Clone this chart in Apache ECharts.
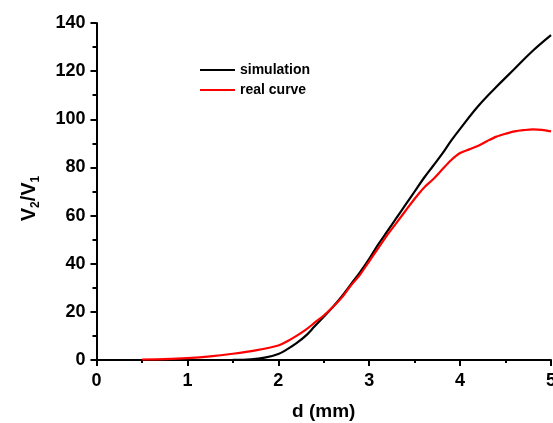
<!DOCTYPE html>
<html>
<head>
<meta charset="utf-8">
<script src="https://cdn.jsdelivr.net/npm/echarts@6/dist/echarts.min.js"></script>
<style>
  html, body { margin: 0; padding: 0; background: #fff; }
  #chart { width: 553px; height: 423px; }
</style>
</head>
<body>
<div id="chart"></div>
<script>
// simulation curve, d (mm) -> V2/V1
var simD = [0, 0.5, 1.0, 1.5, 1.7, 1.85, 2.0, 2.1, 2.2, 2.3, 2.4, 2.5, 2.6, 2.7, 2.8, 2.9, 3.0, 3.1, 3.2, 3.3, 3.4, 3.5, 3.6, 3.7, 3.8, 3.9, 4.0, 4.2, 4.4, 4.6, 4.8, 5.0];
var simV = [0, 0, 0, 0.05, 0.3, 1.0, 2.5, 4.5, 7, 10, 14, 18, 22, 26.5, 31.5, 36.5, 42, 48, 53.5, 59, 64.5, 70, 75.5, 80.5, 85.5, 91, 96, 105.5, 113.5, 121, 128.5, 135];
// measured curve
var realD = [0.5, 0.75, 1.0, 1.25, 1.5, 1.75, 2.0, 2.1, 2.2, 2.3, 2.4, 2.5, 2.6, 2.7, 2.8, 2.9, 3.0, 3.1, 3.2, 3.3, 3.4, 3.5, 3.6, 3.7, 3.8, 3.9, 4.0, 4.1, 4.2, 4.3, 4.4, 4.5, 4.6, 4.7, 4.8, 4.9, 5.0];
var realV = [0.2, 0.4, 0.8, 1.5, 2.6, 4, 6, 7.8, 10, 12.5, 15.5, 18.5, 22, 26, 31, 35.5, 41, 46.5, 52, 57, 62, 67, 71.5, 75, 79, 83, 86, 87.5, 89, 91, 92.8, 94, 95, 95.5, 95.8, 95.6, 95];

function pairs(xs, ys) {
  return xs.map(function (x, i) { return [x, ys[i]]; });
}

var font = 'Liberation Sans, Arial, sans-serif';
var myChart = echarts.init(document.getElementById('chart'));
var option = {
  backgroundColor: '#fff',
  animation: false,
  grid: { left: 96.5, right: 2, top: 23, bottom: 63, outerBoundsMode: 'none', containLabel: false },
  legend: {
    orient: 'vertical',
    left: 194,
    top: 58,
    itemWidth: 35,
    itemHeight: 2,
    itemGap: 6,
    textStyle: { fontFamily: font, fontWeight: 'bold', fontSize: 14, color: '#000' },
    data: ['simulation', 'real curve']
  },
  xAxis: {
    type: 'value',
    min: 0,
    max: 5,
    interval: 1,
    name: 'd (mm)',
    nameLocation: 'middle',
    nameGap: 42,
    nameTextStyle: { fontFamily: font, fontWeight: 'bold', fontSize: 19, color: '#000' },
    axisLine: { lineStyle: { color: '#000', width: 2 } },
    axisTick: { length: 6, lineStyle: { color: '#000', width: 2 } },
    minorTick: { show: true, splitNumber: 2, length: 3, lineStyle: { color: '#000', width: 2 } },
    splitLine: { show: false },
    axisLabel: { fontFamily: font, fontWeight: 'bold', fontSize: 18, color: '#000', margin: 12 }
  },
  yAxis: {
    type: 'value',
    min: 0,
    max: 140,
    interval: 20,
    name: '{a|V}{s|2}{a|/V}{s|1}',
    nameLocation: 'middle',
    nameGap: 55,
    nameRotate: 90,
    nameTextStyle: {
      padding: [0, 14, 0, 0],
      rich: {
        a: { fontFamily: font, fontWeight: 'bold', fontSize: 20, color: '#000', lineHeight: 22, verticalAlign: 'top' },
        s: { fontFamily: font, fontWeight: 'bold', fontSize: 12, color: '#000', lineHeight: 12, verticalAlign: 'bottom', padding: [16, 0, 0, 0] }
      }
    },
    axisLine: { show: true, lineStyle: { color: '#000', width: 2 } },
    axisTick: { show: true, length: 6, lineStyle: { color: '#000', width: 2 } },
    minorTick: { show: true, splitNumber: 2, length: 4, lineStyle: { color: '#000', width: 2 } },
    splitLine: { show: false },
    axisLabel: { fontFamily: font, fontWeight: 'bold', fontSize: 18, color: '#000', margin: 11 }
  },
  series: [
    {
      name: 'simulation',
      type: 'line',
      smooth: 0.4,
      symbol: 'none',
      lineStyle: { color: '#000', width: 2.2 },
      itemStyle: { color: '#000' },
      data: pairs(simD, simV)
    },
    {
      name: 'real curve',
      type: 'line',
      smooth: 0.3,
      symbol: 'none',
      lineStyle: { color: '#ff0000', width: 2.2 },
      itemStyle: { color: '#ff0000' },
      data: pairs(realD, realV)
    }
  ]
};
myChart.setOption(option);
</script>
</body>
</html>
